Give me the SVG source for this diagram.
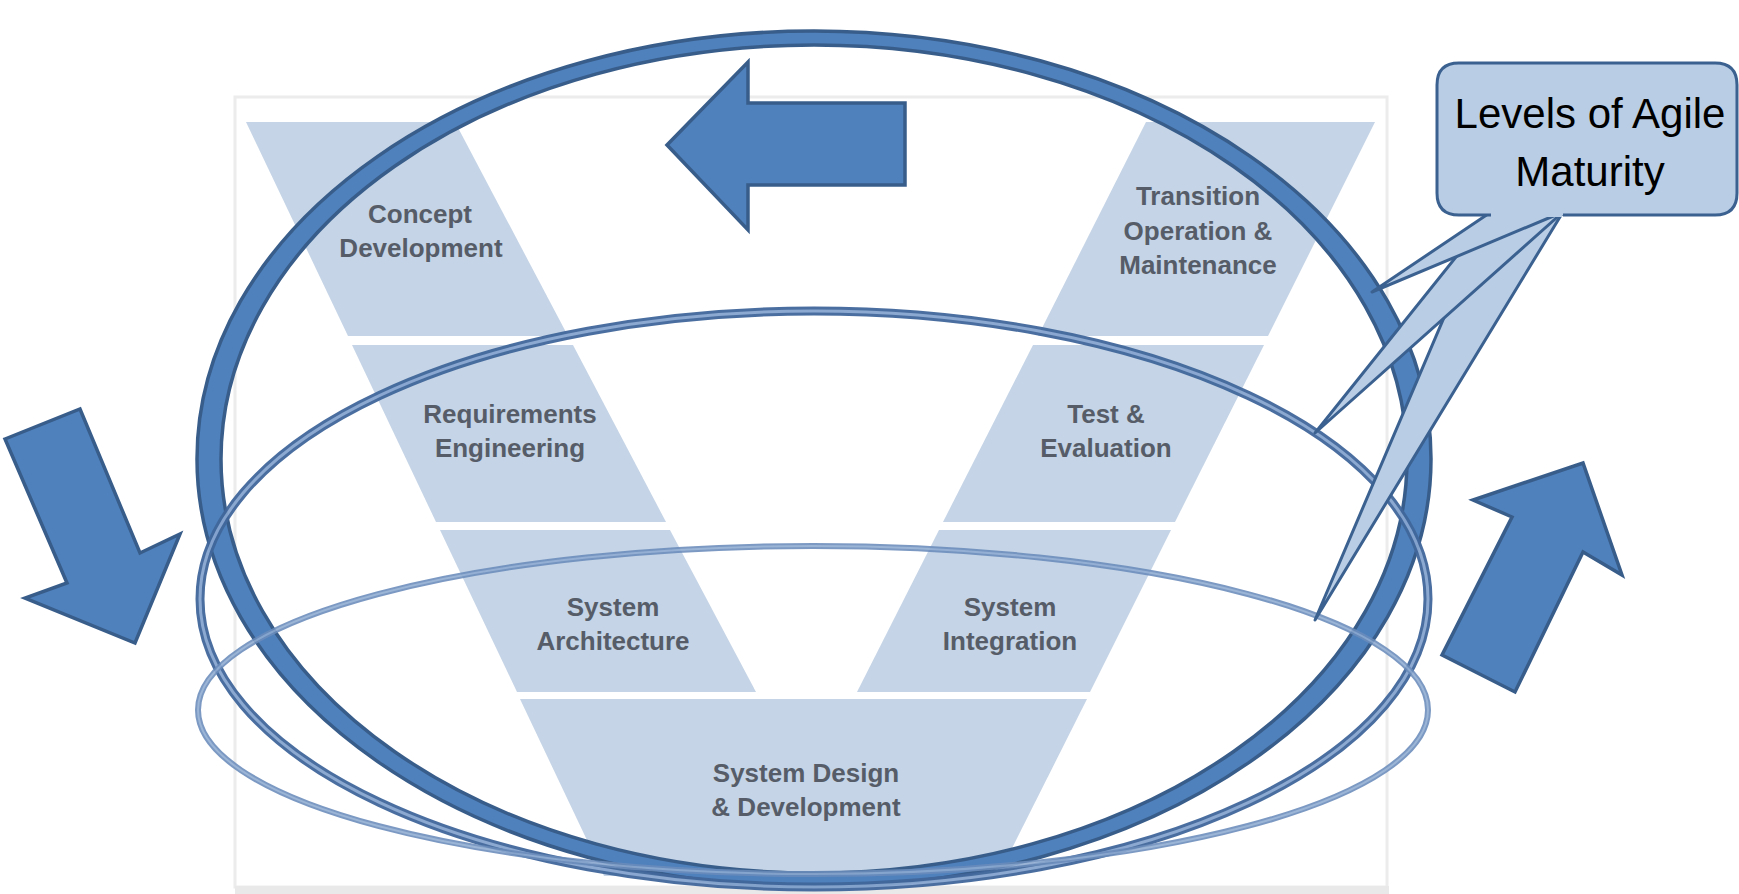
<svg xmlns="http://www.w3.org/2000/svg" width="1739" height="894" viewBox="0 0 1739 894">
  <style>
    .band { fill: #c5d4e6; }
    .vlabel { font-family: "Liberation Sans", Arial, sans-serif; font-weight: bold; font-size: 26px; fill: #565d68; text-anchor: middle; }
    .arrow { fill: #4f81bd; stroke: #385d8a; stroke-width: 3.5; stroke-linejoin: miter; }
    .callout { fill: #b9cde5; stroke: #3b6190; stroke-width: 3; stroke-linejoin: round; }
    .ctext { font-family: "Liberation Sans", Arial, sans-serif; font-size: 42px; fill: #000; text-anchor: middle; }
  </style>

  <rect width="1739" height="894" fill="#ffffff"/>

  <!-- backdrop panel of the V-model figure -->
  <g id="panel">
    <rect x="235" y="97" width="1152" height="790" fill="#ffffff" stroke="#ececec" stroke-width="3"/>
    <rect x="235" y="886" width="1154" height="8" fill="#e9e9e9"/>
  </g>

  <!-- V-model phases -->
  <g id="concept-development">
    <polygon class="band" points="246,122 455,122 568,336 348,336"/>
    <text class="vlabel" x="420" y="223">Concept</text>
    <text class="vlabel" x="421" y="257">Development</text>
  </g>
  <g id="requirements-engineering">
    <polygon class="band" points="352,345 573,345 666,522 436,522"/>
    <text class="vlabel" x="510" y="423">Requirements</text>
    <text class="vlabel" x="510" y="457">Engineering</text>
  </g>
  <g id="system-architecture">
    <polygon class="band" points="440,530 670,530 756,692 517,692"/>
    <text class="vlabel" x="613" y="616">System</text>
    <text class="vlabel" x="613" y="650">Architecture</text>
  </g>
  <g id="system-design-development">
    <polygon class="band" points="520,699 1087,699 998,876 604,876"/>
    <text class="vlabel" x="806" y="782">System Design</text>
    <text class="vlabel" x="806" y="816">&amp; Development</text>
  </g>
  <g id="system-integration">
    <polygon class="band" points="939,530 1171,530 1090,692 857,692"/>
    <text class="vlabel" x="1010" y="616">System</text>
    <text class="vlabel" x="1010" y="650">Integration</text>
  </g>
  <g id="test-evaluation">
    <polygon class="band" points="1033,345 1264,345 1175,522 943,522"/>
    <text class="vlabel" x="1106" y="423">Test &amp;</text>
    <text class="vlabel" x="1106" y="457">Evaluation</text>
  </g>
  <g id="transition-operation-maintenance">
    <polygon class="band" points="1146,122 1375,122 1268,336 1038,336"/>
    <text class="vlabel" x="1198" y="205">Transition</text>
    <text class="vlabel" x="1198" y="240">Operation &amp;</text>
    <text class="vlabel" x="1198" y="274">Maintenance</text>
  </g>

  <!-- three agile maturity loops -->
  <g id="loops">
    <path id="loop-outer" d="M197,459 A617,428 0 1,0 1431,459 A617,428 0 1,0 197,459 Z M221,459 A593,414 0 1,0 1407,459 A593,414 0 1,0 221,459 Z" fill="#4f81bd" fill-rule="evenodd" stroke="#385d8a" stroke-width="3.5"/>
    <g id="loop-middle" opacity="0.95">
      <ellipse cx="814" cy="599" rx="614" ry="288" fill="none" stroke="#41679b" stroke-width="9"/>
      <ellipse cx="814" cy="599" rx="614" ry="288" fill="none" stroke="#86a5cf" stroke-width="3"/>
    </g>
    <g id="loop-inner" opacity="0.88">
      <ellipse cx="813" cy="710" rx="615" ry="164" fill="none" stroke="#6a8cbb" stroke-width="6"/>
      <ellipse cx="813" cy="710" rx="615" ry="164" fill="none" stroke="#8eabd1" stroke-width="2"/>
    </g>
  </g>

  <!-- direction arrows -->
  <g id="arrows">
    <polygon id="arrow-top" class="arrow" points="667,145 748,62 748,103 905,103 905,185 748,185 748,230"/>
    <polygon id="arrow-left" class="arrow" points="5,439 80,409 140,553 180,534 135,643 25,598 67,583"/>
    <polygon id="arrow-right" class="arrow" points="1442,655 1515,692 1583,552 1622,575 1583,463 1473,500 1512,517"/>
  </g>

  <!-- callout pointing at each loop -->
  <g id="callout">
    <polygon class="callout" points="1489,212 1563,212 1315,620"/>
    <polygon class="callout" points="1492,212 1563,212 1315,433"/>
    <polygon class="callout" points="1491,212 1563,212 1372,292"/>
    <path class="callout" d="M1491,215 L1459,215 Q1437,215 1437,193 L1437,85 Q1437,63 1459,63 L1715,63 Q1737,63 1737,85 L1737,193 Q1737,215 1715,215 L1563,215"/>
    <rect x="1492" y="205" width="70" height="12" fill="#b9cde5"/>
    <text class="ctext" x="1590" y="128">Levels of Agile</text>
    <text class="ctext" x="1590" y="186">Maturity</text>
  </g>
</svg>
